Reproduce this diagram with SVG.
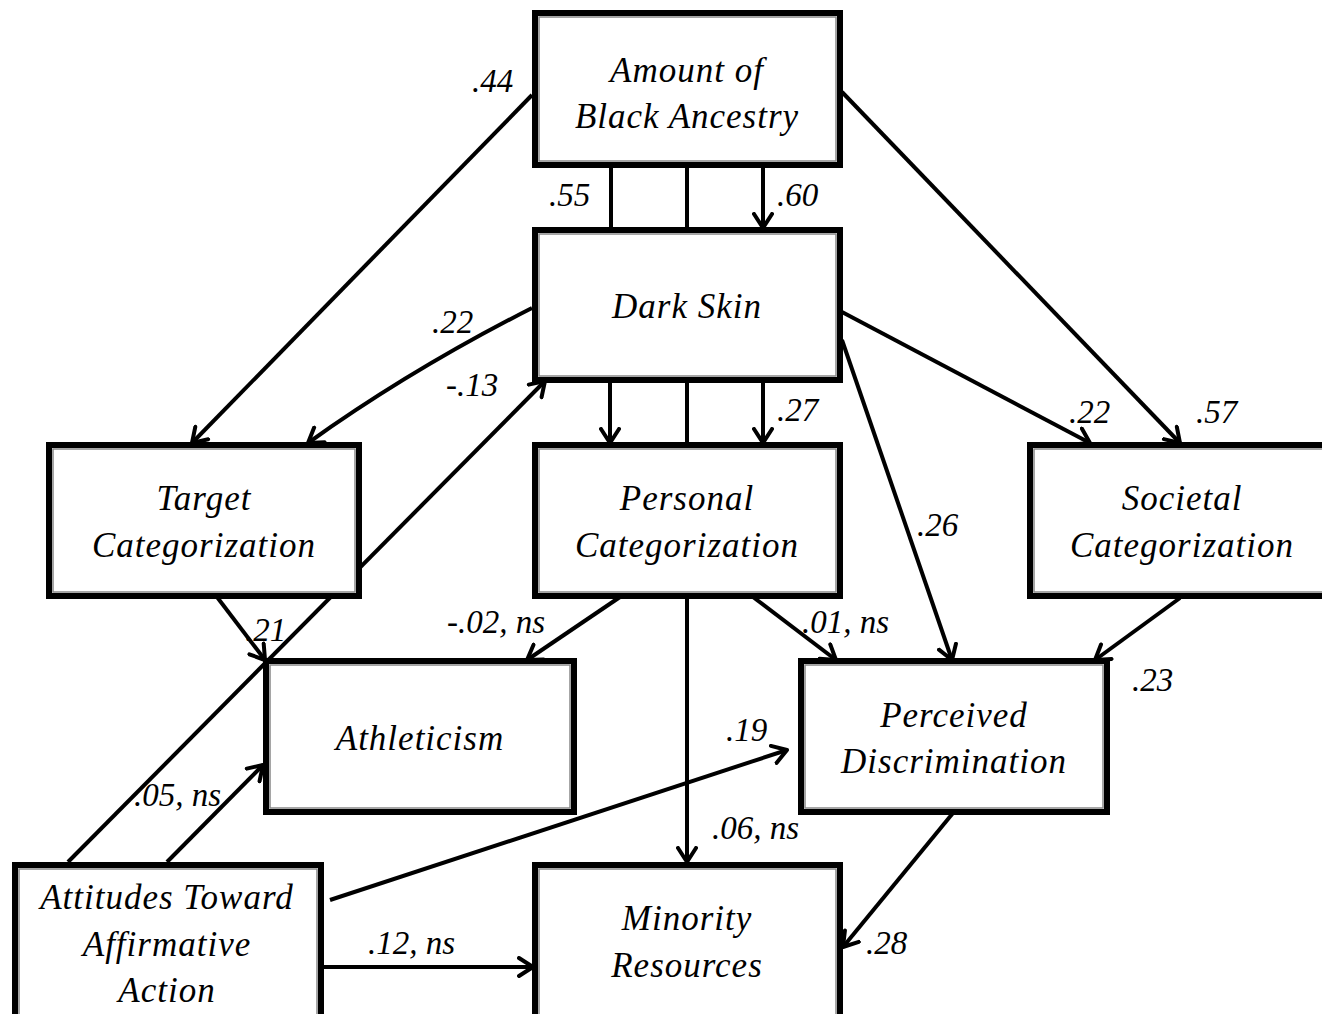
<svg xmlns="http://www.w3.org/2000/svg" width="1322" height="1014" viewBox="0 0 1322 1014">
<defs>
<style>
.box{fill:#fff;stroke:#000;stroke-width:6}
.inner{fill:none;stroke:#888;stroke-width:1.5}
.t{font-family:"Liberation Serif","Times New Roman",serif;font-style:italic;font-size:35px;letter-spacing:1px;text-anchor:middle;fill:#000}
.lbl{font-family:"Liberation Serif","Times New Roman",serif;font-style:italic;font-size:33px;fill:#000}
.c{fill:none;stroke:#000;stroke-width:4}
.a{marker-end:url(#arr)}
</style>
<marker id="arr" viewBox="0 0 18 22" markerWidth="18" markerHeight="22" refX="16" refY="11" orient="auto" markerUnits="userSpaceOnUse">
<path d="M2,2 L16,11 L2,20" fill="none" stroke="#000" stroke-width="4" stroke-linecap="round" stroke-linejoin="round"/>
</marker>
</defs>

<g id="connectors">
<path class="c a" d="M532,95 L192,443"/>
<path class="c a" d="M842,92 L1180,443"/>
<path class="c" d="M611,166 L611,228"/>
<path class="c" d="M687,166 L687,228"/>
<path class="c a" d="M763,166 L763,228"/>
<path class="c a" d="M532,308 Q410,370 308,443"/>
<path class="c a" d="M68,862 L545,381"/>
<path class="c a" d="M610,382 L610,443"/>
<path class="c" d="M687,382 L687,443"/>
<path class="c a" d="M763,382 L763,443"/>
<path class="c a" d="M842,312 L1090,443"/>
<path class="c a" d="M842,340 L952,660"/>
<path class="c a" d="M217,597 L265,660"/>
<path class="c a" d="M167,862 L263,765"/>
<path class="c a" d="M620,597 L527,660"/>
<path class="c a" d="M687,597 L687,862"/>
<path class="c a" d="M753,597 L836,660"/>
<path class="c a" d="M1180,598 L1095,660"/>
<path class="c a" d="M330,900 L787,750"/>
<path class="c a" d="M322,967 L533,967"/>
<path class="c a" d="M953,813 L843,947"/>
</g>

<g id="labels">
<text class="lbl" x="472" y="92">.44</text>
<text class="lbl" x="549" y="206">.55</text>
<text class="lbl" x="777" y="206">.60</text>
<text class="lbl" x="432" y="333">.22</text>
<text class="lbl" x="446" y="396">-.13</text>
<text class="lbl" x="777" y="421">.27</text>
<text class="lbl" x="1069" y="423">.22</text>
<text class="lbl" x="1196" y="423">.57</text>
<text class="lbl" x="917" y="536">.26</text>
<text class="lbl" x="245" y="641">.21</text>
<text class="lbl" x="447" y="633">-.02, ns</text>
<text class="lbl" x="802" y="633">.01, ns</text>
<text class="lbl" x="1132" y="691">.23</text>
<text class="lbl" x="726" y="741">.19</text>
<text class="lbl" x="134" y="806">.05, ns</text>
<text class="lbl" x="712" y="839">.06, ns</text>
<text class="lbl" x="368" y="954">.12, ns</text>
<text class="lbl" x="866" y="954">.28</text>
</g>

<g id="node-amount">
<rect class="box" x="535" y="13" width="305" height="152"/>
<rect class="inner" x="539" y="17" width="297" height="144"/>
<text class="t" x="687" y="82">Amount of</text>
<text class="t" x="687" y="128">Black Ancestry</text>
</g>
<g id="node-darkskin">
<rect class="box" x="535" y="230" width="305" height="150"/>
<rect class="inner" x="539" y="234" width="297" height="142"/>
<text class="t" x="687" y="318">Dark Skin</text>
</g>
<g id="node-target">
<rect class="box" x="49" y="445" width="310" height="151"/>
<rect class="inner" x="53" y="449" width="302" height="143"/>
<text class="t" x="204" y="510">Target</text>
<text class="t" x="204" y="557">Categorization</text>
</g>
<g id="node-personal">
<rect class="box" x="535" y="445" width="305" height="151"/>
<rect class="inner" x="539" y="449" width="297" height="143"/>
<text class="t" x="687" y="510">Personal</text>
<text class="t" x="687" y="557">Categorization</text>
</g>
<g id="node-societal">
<rect class="box" x="1030" y="445" width="300" height="151"/>
<rect class="inner" x="1034" y="449" width="300" height="143"/>
<text class="t" x="1182" y="510">Societal</text>
<text class="t" x="1182" y="557">Categorization</text>
</g>
<g id="node-athleticism">
<rect class="box" x="266" y="661" width="308" height="151"/>
<rect class="inner" x="270" y="665" width="300" height="143"/>
<text class="t" x="420" y="750">Athleticism</text>
</g>
<g id="node-perceived">
<rect class="box" x="801" y="661" width="306" height="151"/>
<rect class="inner" x="805" y="665" width="298" height="143"/>
<text class="t" x="954" y="727">Perceived</text>
<text class="t" x="954" y="773">Discrimination</text>
</g>
<g id="node-attitudes">
<rect class="box" x="15" y="865" width="306" height="160"/>
<rect class="inner" x="19" y="869" width="298" height="152"/>
<text class="t" x="167" y="909">Attitudes Toward</text>
<text class="t" x="167" y="956">Affirmative</text>
<text class="t" x="167" y="1002">Action</text>
</g>
<g id="node-minority">
<rect class="box" x="535" y="865" width="305" height="160"/>
<rect class="inner" x="539" y="869" width="297" height="152"/>
<text class="t" x="687" y="930">Minority</text>
<text class="t" x="687" y="977">Resources</text>
</g>
</svg>
